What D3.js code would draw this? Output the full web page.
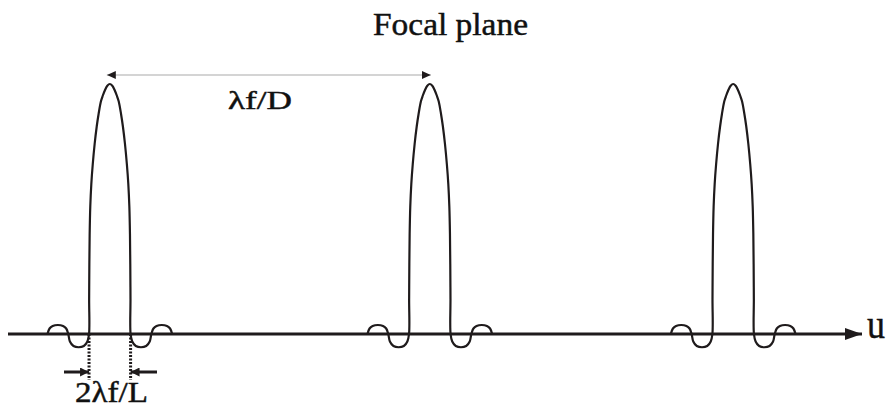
<!DOCTYPE html>
<html>
<head>
<meta charset="utf-8">
<script src="https://cdn.jsdelivr.net/npm/d3@7"></script>
<style>
  html, body { margin: 0; padding: 0; background: #fff; }
  svg { display: block; }
  text { font-family: "Liberation Serif", "Times New Roman", serif; fill: #111; stroke: #111; stroke-width: 0.45px; }
</style>
</head>
<body>
<svg id="chart" width="887" height="408"></svg>
<script>
// Positions along u (unit = half-width of the central lobe, 2λf/L / 2)
const uExtent = [-4.9, 36.2];
const peakCenters = [0, 15.4, 30.0];
const spacingPair = [0, 1];          // peaks spanned by the λf/D marker

// One half of a diffraction order profile: [offset from centre, relative amplitude]
const mainLobe = [
  [0, 1], [0.12, 0.993], [0.24, 0.974], [0.34, 0.953], [0.43, 0.93],
  [0.54, 0.88], [0.63, 0.83], [0.73, 0.76], [0.82, 0.68], [0.89, 0.6],
  [0.94, 0.51], [0.97, 0.4], [0.985, 0.28], [0.995, 0.14], [1, 0]
];
const sideLobes = [
  [1.08, -0.03], [1.25, -0.048], [1.5, -0.053], [1.75, -0.048], [1.92, -0.03], [2, 0],
  [2.1, 0.022], [2.25, 0.032], [2.5, 0.036], [2.75, 0.032], [2.9, 0.022], [3, 0]
];

// Text
const titleText = "Focal plane";
const axisLabel = "u";
const spacingLabel = "λf/D";
const widthLabel = "2λf/L";

const ink = "#1f1b1c";
const svg = d3.select("#chart");

const x = d3.scaleLinear().domain(uExtent).range([8, 862]);
const y = d3.scaleLinear().domain([0, 1]).range([334, 84]);

// Arrowhead markers
const defs = svg.append("defs");
function marker(id, w, h) {
  defs.append("marker")
    .attr("id", id)
    .attr("viewBox", `0 0 ${w} ${h}`)
    .attr("refX", w).attr("refY", h / 2)
    .attr("markerWidth", w).attr("markerHeight", h)
    .attr("markerUnits", "userSpaceOnUse")
    .attr("orient", "auto-start-reverse")
    .append("path")
    .attr("d", `M0,0L${w},${h / 2}L0,${h}Z`)
    .attr("fill", ink);
}
marker("headAxis", 17, 12);
marker("headSmall", 9, 8);
marker("headWidth", 9, 9);

// Title
svg.append("text")
  .attr("x", 373).attr("y", 35)
  .attr("font-size", 31)
  .attr("textLength", 155).attr("lengthAdjust", "spacingAndGlyphs")
  .text(titleText);

// u axis
svg.append("line")
  .attr("x1", x(uExtent[0])).attr("x2", x(uExtent[1]))
  .attr("y1", y(0)).attr("y2", y(0))
  .attr("stroke", ink).attr("stroke-width", 3)
  .attr("marker-end", "url(#headAxis)");

svg.append("text")
  .attr("x", 867).attr("y", y(0) + 4)
  .attr("font-size", 40)
  .attr("textLength", 18).attr("lengthAdjust", "spacingAndGlyphs")
  .text(axisLabel);

// Diffraction orders
const halfProfile = mainLobe.concat(sideLobes);
const fullProfile = halfProfile.slice().reverse().map(([d, a]) => [-d, a])
  .concat(halfProfile.slice(1));

const line = d3.line()
  .x(d => x(d[0]))
  .y(d => y(d[1]))
  .curve(d3.curveCatmullRom.alpha(0.5));

svg.append("g")
  .selectAll("path")
  .data(peakCenters)
  .join("path")
  .attr("d", c => line(fullProfile.map(([d, a]) => [c + d, a])))
  .attr("fill", "none")
  .attr("stroke", ink)
  .attr("stroke-width", 2.2)
  .attr("stroke-linejoin", "round");

// λf/D spacing marker
const yTop = y(1) - 9;
svg.append("line")
  .attr("x1", x(peakCenters[spacingPair[0]]) - 3)
  .attr("x2", x(peakCenters[spacingPair[1]]) + 1)
  .attr("y1", yTop).attr("y2", yTop)
  .attr("stroke", "#a9a9a9").attr("stroke-width", 1)
  .attr("marker-start", "url(#headSmall)")
  .attr("marker-end", "url(#headSmall)");

svg.append("text")
  .attr("x", 228).attr("y", 109)
  .attr("font-size", 26)
  .attr("textLength", 64).attr("lengthAdjust", "spacingAndGlyphs")
  .text(spacingLabel);

// 2λf/L width marker on the first order
const c0 = peakCenters[0];
const zeroEdges = [c0 - 1, c0 + 1];
svg.append("g")
  .selectAll("line")
  .data(zeroEdges)
  .join("line")
  .attr("x1", d => x(d)).attr("x2", d => x(d))
  .attr("y1", y(0)).attr("y2", 380)
  .attr("stroke", ink).attr("stroke-width", 3)
  .attr("stroke-dasharray", "2,1.5");

const arrowY = 372;
svg.append("line")
  .attr("x1", 64).attr("x2", x(zeroEdges[0]))
  .attr("y1", arrowY).attr("y2", arrowY)
  .attr("stroke", ink).attr("stroke-width", 3)
  .attr("marker-end", "url(#headWidth)");
svg.append("line")
  .attr("x1", 157).attr("x2", x(zeroEdges[1]))
  .attr("y1", arrowY).attr("y2", arrowY)
  .attr("stroke", ink).attr("stroke-width", 3)
  .attr("marker-end", "url(#headWidth)");

svg.append("text")
  .attr("x", 75).attr("y", 402)
  .attr("font-size", 29)
  .attr("textLength", 73).attr("lengthAdjust", "spacingAndGlyphs")
  .text(widthLabel);
</script>
</body>
</html>
